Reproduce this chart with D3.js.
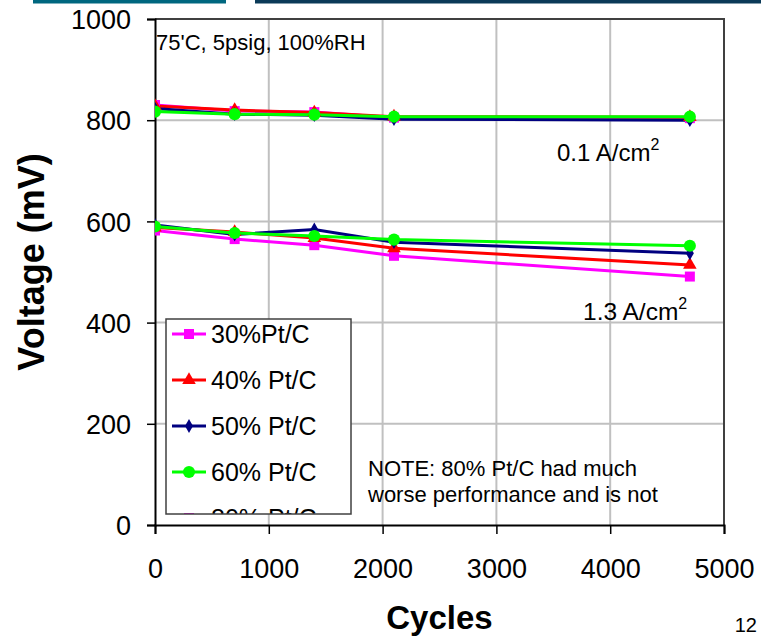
<!DOCTYPE html>
<html>
<head>
<meta charset="utf-8">
<script src="https://cdn.jsdelivr.net/npm/d3@7"></script>
<style>
  html, body { margin: 0; padding: 0; background: #fff; }
  svg { display: block; font-family: "Liberation Sans", Arial, sans-serif; }
</style>
</head>
<body>
<svg id="chart" width="761" height="637"></svg>
<script>
// Cycle counts at which each cell was measured
const cycles = [0, 700, 1400, 2100, 4700];

// Cell voltage (mV) at 0.1 A/cm2
const pt30_low = [830, 818, 816, 805, 804];
const pt40_low = [828, 820, 815, 807, 806];
const pt50_low = [823, 812, 810, 802, 800];
const pt60_low = [817, 812, 811, 807, 807];

// Cell voltage (mV) at 1.3 A/cm2
const pt30_high = [582, 565, 553, 532, 491];
const pt40_high = [588, 579, 567, 547, 514];
const pt50_high = [593, 574, 584, 559, 537];
const pt60_high = [590, 577, 571, 564, 552];

const seriesNames = ["30%Pt/C", "40% Pt/C", "50% Pt/C", "60% Pt/C"];
const extraLegendName = "80% Pt/C";
const xTicks = [0, 1000, 2000, 3000, 4000, 5000];
const yTicks = [0, 200, 400, 600, 800, 1000];

const series = [
  { name: seriesNames[0], color: "#ff00ff", symbol: d3.symbolSquare, size: 100, low: pt30_low, high: pt30_high },
  { name: seriesNames[1], color: "#ff0000", symbol: d3.symbolTriangle, size: 80, low: pt40_low, high: pt40_high },
  { name: seriesNames[2], color: "#000080", symbol: d3.symbolDiamond, size: 55, low: pt50_low, high: pt50_high },
  { name: seriesNames[3], color: "#00ff00", symbol: d3.symbolCircle, size: 115, low: pt60_low, high: pt60_high }
];

const svg = d3.select("#chart");
const plot = { left: 155, right: 724, top: 19, bottom: 525 };

const x = d3.scaleLinear().domain([0, 5000]).range([plot.left, plot.right]);
const y = d3.scaleLinear().domain([0, 1000]).range([plot.bottom, plot.top]);

// Header rule
svg.append("rect").attr("x", 33).attr("y", 0).attr("width", 193).attr("height", 3.5).attr("fill", "#00677f");
svg.append("rect").attr("x", 255).attr("y", 0).attr("width", 506).attr("height", 3.5).attr("fill", "#0b3a58");

// Clip for things inside the plot area
svg.append("clipPath").attr("id", "plotClip")
  .append("rect").attr("x", plot.left).attr("y", plot.top)
  .attr("width", plot.right - plot.left).attr("height", plot.bottom - plot.top);

// Gridlines
const grid = svg.append("g");
grid.selectAll("line.h").data(yTicks.filter(d => d > 0 && d < 1000)).join("line")
  .attr("x1", plot.left).attr("x2", plot.right)
  .attr("y1", d => y(d)).attr("y2", d => y(d))
  .attr("stroke", "#c0c0c0").attr("stroke-width", 2);
grid.selectAll("line.v").data(xTicks.filter(d => d > 0 && d < 5000)).join("line")
  .attr("y1", plot.top).attr("y2", plot.bottom)
  .attr("x1", d => x(d)).attr("x2", d => x(d))
  .attr("stroke", "#c0c0c0").attr("stroke-width", 2);

// Plot frame (top and right)
svg.append("path")
  .attr("d", `M${plot.left},${plot.top}H${plot.right}V${plot.bottom}`)
  .attr("fill", "none").attr("stroke", "#404040").attr("stroke-width", 2);

// Axes
const xAxis = d3.axisBottom(x).tickValues(xTicks).tickSize(9).tickPadding(25).tickFormat(d3.format("d"));
const yAxis = d3.axisLeft(y).tickValues(yTicks).tickSize(8).tickPadding(16).tickFormat(d3.format("d"));

const gx = svg.append("g").attr("transform", `translate(0,${plot.bottom})`).call(xAxis);
const gy = svg.append("g").attr("transform", `translate(${plot.left},0)`).call(yAxis);
[gx, gy].forEach(g => {
  g.select(".domain").attr("stroke", "#000").attr("stroke-width", 2);
  g.selectAll(".tick line").attr("stroke", "#000").attr("stroke-width", 1.5);
  g.selectAll(".tick text").attr("fill", "#000")
    .style("font-family", "'Liberation Sans', Arial, sans-serif").style("font-size", "27px");
});
gy.selectAll(".tick text").attr("dy", "0.36em");

// Series lines and markers
const line = d3.line().x(d => x(d[0])).y(d => y(d[1]));
const marks = svg.append("g").attr("clip-path", "url(#plotClip)");
series.forEach(s => {
  [s.low, s.high].forEach(vals => {
    const pts = cycles.map((c, i) => [c, vals[i]]);
    marks.append("path").datum(pts).attr("d", line)
      .attr("fill", "none").attr("stroke", s.color).attr("stroke-width", 3);
  });
});
series.forEach(s => {
  [s.low, s.high].forEach(vals => {
    const pts = cycles.map((c, i) => [c, vals[i]]);
    marks.selectAll(null).data(pts).join("path")
      .attr("d", d3.symbol().type(s.symbol).size(s.size))
      .attr("transform", d => `translate(${x(d[0])},${y(d[1])})`)
      .attr("fill", s.color);
  });
});

// Annotations
svg.append("text").attr("x", 156).attr("y", 50)
  .style("font-size", "22px").text("75'C, 5psig, 100%RH");

const a1 = svg.append("text").attr("x", 557).attr("y", 161).style("font-size", "24px");
a1.append("tspan").text("0.1 A/cm");
a1.append("tspan").attr("dy", -11).style("font-size", "16px").text("2");

const a2 = svg.append("text").attr("x", 583).attr("y", 320).style("font-size", "24.5px");
a2.append("tspan").text("1.3 A/cm");
a2.append("tspan").attr("dy", -11).style("font-size", "16px").text("2");

const note = svg.append("g").attr("clip-path", "url(#plotClip)");
note.append("text").attr("x", 368).attr("y", 476).style("font-size", "22px")
  .text("NOTE: 80% Pt/C had much");
note.append("text").attr("x", 368).attr("y", 502).style("font-size", "22px")
  .text("worse performance and is not");

// Legend
const lg = { x: 166, y: 319, w: 185, h: 195 };
svg.append("clipPath").attr("id", "legendClip")
  .append("rect").attr("x", lg.x).attr("y", lg.y).attr("width", lg.w).attr("height", lg.h);
svg.append("rect").attr("x", lg.x).attr("y", lg.y).attr("width", lg.w).attr("height", lg.h)
  .attr("fill", "#fff");
const legendItems = series.concat([{ name: extraLegendName, color: "#ff00ff", symbol: d3.symbolSquare, size: 100 }]);
const legend = svg.append("g").attr("clip-path", "url(#legendClip)");
legendItems.forEach((s, i) => {
  const cy = 334 + i * 46;
  legend.append("line").attr("x1", 172).attr("x2", 206).attr("y1", cy).attr("y2", cy)
    .attr("stroke", s.color).attr("stroke-width", 3);
  legend.append("path").attr("d", d3.symbol().type(s.symbol).size(s.size))
    .attr("transform", `translate(189,${cy})`).attr("fill", s.color);
  legend.append("text").attr("x", 211).attr("y", cy).attr("dy", "0.36em")
    .style("font-size", "25px").text(s.name);
});
svg.append("rect").attr("x", lg.x).attr("y", lg.y).attr("width", lg.w).attr("height", lg.h)
  .attr("fill", "none").attr("stroke", "#404040").attr("stroke-width", 1.5);

// Axis titles
svg.append("text").attr("x", (plot.left + plot.right) / 2).attr("y", 629)
  .attr("text-anchor", "middle").style("font-size", "33px").style("font-weight", "bold")
  .text("Cycles");
svg.append("text").attr("transform", "translate(44,262) rotate(-90)")
  .attr("text-anchor", "middle").style("font-size", "36px").style("font-weight", "bold")
  .text("Voltage (mV)");

// Page number
svg.append("text").attr("x", 757).attr("y", 632).attr("text-anchor", "end")
  .style("font-size", "20px").text("12");
</script>
</body>
</html>
